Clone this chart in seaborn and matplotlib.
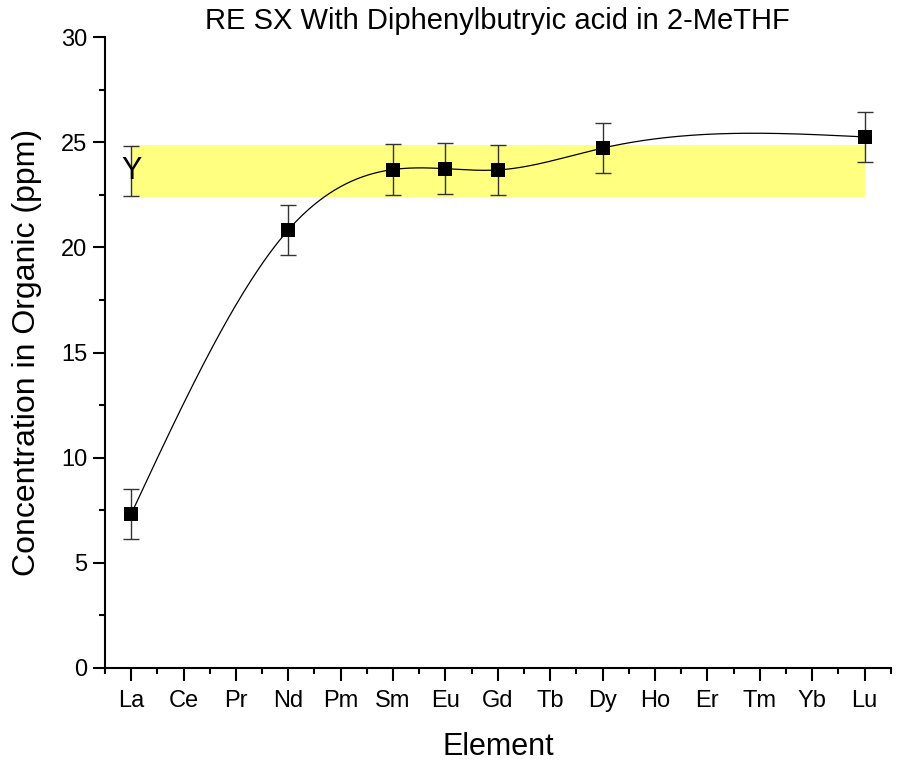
import numpy as np
import pandas as pd
import matplotlib
matplotlib.use("Agg")
import matplotlib.pyplot as plt
import seaborn as sns
from matplotlib.ticker import MultipleLocator

elements = ["La", "Ce", "Pr", "Nd", "Pm", "Sm", "Eu", "Gd", "Tb", "Dy", "Ho", "Er", "Tm", "Yb", "Lu"]
measured = ["La", "Nd", "Sm", "Eu", "Gd", "Dy", "Lu"]
conc = [7.32, 20.83, 23.70, 23.74, 23.68, 24.72, 25.25]
err = [1.2, 1.2, 1.2, 1.2, 1.2, 1.2, 1.2]
y_value = 23.62
y_err = 1.2
band_low = 22.4
band_high = 24.85

sns.set_theme(style="ticks")
plt.rcParams['font.family'] = ['Liberation Sans', 'DejaVu Sans']
plt.rcParams['text.color'] = 'black'
plt.rcParams['axes.labelcolor'] = 'black'
plt.rcParams['xtick.color'] = 'black'
plt.rcParams['ytick.color'] = 'black'

df = pd.DataFrame({"Element": measured, "Conc": conc, "Err": err})
df["pos"] = [elements.index(e) for e in measured]

def natural_spline(x, y, xs):
    x = np.asarray(x, float); y = np.asarray(y, float)
    n = len(x)
    h = np.diff(x)
    A = np.zeros((n, n)); b = np.zeros(n)
    A[0, 0] = 1; A[-1, -1] = 1
    for i in range(1, n - 1):
        A[i, i - 1] = h[i - 1]
        A[i, i] = 2 * (h[i - 1] + h[i])
        A[i, i + 1] = h[i]
        b[i] = 3 * ((y[i + 1] - y[i]) / h[i] - (y[i] - y[i - 1]) / h[i - 1])
    c = np.linalg.solve(A, b)
    out = np.empty_like(xs)
    for k, xv in enumerate(xs):
        i = min(max(np.searchsorted(x, xv) - 1, 0), n - 2)
        dx = xv - x[i]
        bi = (y[i + 1] - y[i]) / h[i] - h[i] * (2 * c[i] + c[i + 1]) / 3
        di = (c[i + 1] - c[i]) / (3 * h[i])
        out[k] = y[i] + bi * dx + c[i] * dx ** 2 + di * dx ** 3
    return out

fig = plt.figure(figsize=(8.97, 7.65), dpi=100)
ax = fig.add_axes([0.117, 0.1268, 0.876, 0.8248])

# yellow band
ax.fill_between([0, 14], band_low, band_high, color="#FFFF80", zorder=1, linewidth=0)

# spline
xs = np.linspace(df["pos"].min(), df["pos"].max(), 400)
ys = natural_spline(df["pos"], df["Conc"], xs)
sns.lineplot(x=xs, y=ys, ax=ax, color="black", linewidth=0.9, zorder=2)

# error bars
ax.errorbar(df["pos"], df["Conc"], yerr=df["Err"], fmt="none", ecolor="#333333",
            elinewidth=1.0, capsize=6, capthick=1.0, zorder=3)
sns.scatterplot(data=df, x="pos", y="Conc", ax=ax, marker="s", s=105, color="black",
                linewidth=0, zorder=4)

# Y reference
ax.errorbar([0], [y_value], yerr=[y_err], fmt="none", ecolor="#333333",
            elinewidth=1.0, capsize=6, capthick=1.0, zorder=3)
ax.text(0, y_value, "Y", ha="center", va="center", fontsize=22, color="black", zorder=5)

ax.set_xlim(-0.5, 14.5)
ax.set_ylim(0, 30)
ax.set_xticks(range(len(elements)))
ax.set_xticklabels(elements)
ax.xaxis.set_minor_locator(MultipleLocator(1, offset=0.5))
ax.yaxis.set_major_locator(MultipleLocator(5))
ax.yaxis.set_minor_locator(MultipleLocator(2.5))
ax.tick_params(which="major", length=9, width=1.5, labelsize=17, direction="out", color="black",
               labelcolor="black")
ax.tick_params(axis="x", which="major", pad=7)
ax.tick_params(which="minor", length=4.5, width=1.5, direction="out", color="black")
for s in ["left", "bottom"]:
    ax.spines[s].set_linewidth(1.5)
    ax.spines[s].set_color("black")
sns.despine(ax=ax)

ax.set_xlabel("Element", fontsize=22, labelpad=14, color="black")
ax.set_ylabel("Concentration in Organic (ppm)", fontsize=23, labelpad=14, color="black")
ax.set_title("RE SX With Diphenylbutryic acid in 2-MeTHF", fontsize=21, pad=6, color="black")

fig.savefig("out.png", dpi=100)
